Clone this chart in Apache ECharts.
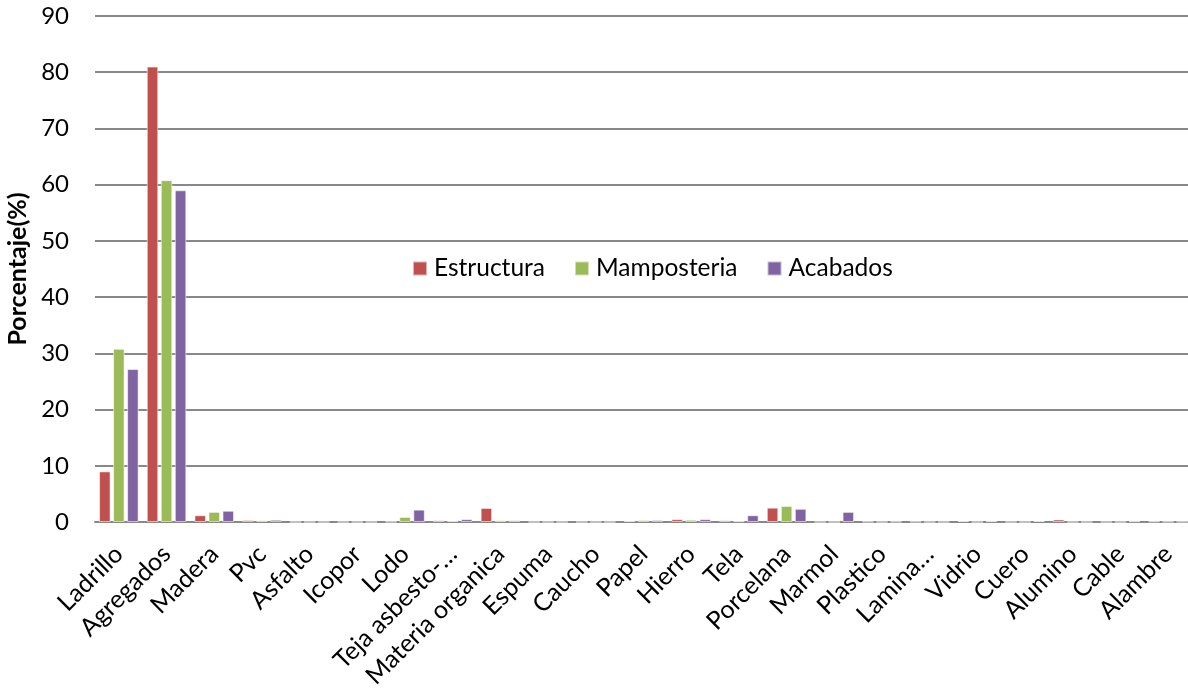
<!DOCTYPE html>
<html>
<head>
<meta charset="utf-8">
<script src="https://cdn.jsdelivr.net/npm/echarts@6/dist/echarts.min.js"></script>
<style>
  html, body { margin: 0; padding: 0; background: #ffffff; }
  #chart { width: 1188px; height: 690px; }
</style>
</head>
<body>
<div id="chart"></div>
<script>
// Material categories (x axis)
const categories = [
  'Ladrillo', 'Agregados', 'Madera', 'Pvc', 'Asfalto', 'Icopor', 'Lodo',
  'Teja asbesto-…', 'Materia organica', 'Espuma', 'Caucho', 'Papel', 'Hierro',
  'Tela', 'Porcelana', 'Marmol', 'Plastico', 'Lamina…', 'Vidrio', 'Cuero',
  'Alumino', 'Cable', 'Alambre'
];

// Percentage per construction stage
const estructura = [9.0, 81.0, 1.2, 0.35, 0, 0, 0.05, 0.3, 2.5, 0, 0, 0.2, 0.5,
  0.3, 2.55, 0, 0.05, 0.05, 0.2, 0, 0.45, 0, 0.1];
const mamposteria = [30.8, 60.8, 1.8, 0.3, 0, 0, 0.9, 0.2, 0.3, 0, 0, 0.35, 0.4,
  0.15, 2.85, 0, 0, 0, 0, 0, 0, 0, 0.05];
const acabados = [27.2, 59.0, 2.0, 0.4, 0, 0, 2.2, 0.5, 0.3, 0, 0, 0.35, 0.5,
  1.2, 2.35, 1.8, 0.05, 0, 0.15, 0.2, 0, 0.15, 0.05];

// Y axis ticks
const yMin = 0, yMax = 90, yStep = 10;

const FONT = 'Lato';
const chart = echarts.init(document.getElementById('chart'), null, { renderer: 'canvas' });

const barStyle = (color) => ({
  type: 'bar',
  barWidth: 11.5,
  barGap: '22%',
  itemStyle: { color: color, borderColor: 'rgba(255,255,255,0.55)', borderWidth: 1 },
  emphasis: { disabled: true }
});

chart.setOption({
  animation: false,
  textStyle: { fontFamily: FONT },
  grid: {
    left: 95, top: 16, height: 506, width: 1097,
    containLabel: false,
    outerBoundsMode: 'none'
  },
  legend: {
    left: 412,
    top: 256,
    padding: 0,
    itemWidth: 14,
    itemHeight: 14,
    itemGap: 29,
    icon: 'rect',
    textStyle: { fontFamily: FONT, fontSize: 24.5, color: '#000', padding: [0, 0, 0, 2] },
    data: ['Estructura', 'Mamposteria', 'Acabados']
  },
  xAxis: {
    type: 'category',
    data: categories,
    axisLine: { lineStyle: { color: '#888888', width: 2 } },
    axisTick: { show: false },
    axisLabel: {
      interval: 0,
      rotate: 45,
      margin: 28,
      fontFamily: FONT,
      fontSize: 25,
      color: '#000'
    }
  },
  yAxis: {
    type: 'value',
    min: yMin,
    max: yMax,
    interval: yStep,
    name: 'Porcentaje(%)',
    nameLocation: 'middle',
    nameGap: 61,
    nameTextStyle: { fontFamily: FONT, fontSize: 25, fontWeight: 'bold', color: '#000' },
    axisLine: { show: false },
    axisTick: { show: false },
    axisLabel: { margin: 26, fontFamily: FONT, fontSize: 24, color: '#000' },
    splitLine: { lineStyle: { color: '#888888', width: 2 } }
  },
  series: [
    Object.assign(barStyle('#C0504D'), { name: 'Estructura', data: estructura }),
    Object.assign(barStyle('#9BBB59'), { name: 'Mamposteria', data: mamposteria }),
    Object.assign(barStyle('#8064A2'), { name: 'Acabados', data: acabados })
  ]
});
</script>
</body>
</html>
